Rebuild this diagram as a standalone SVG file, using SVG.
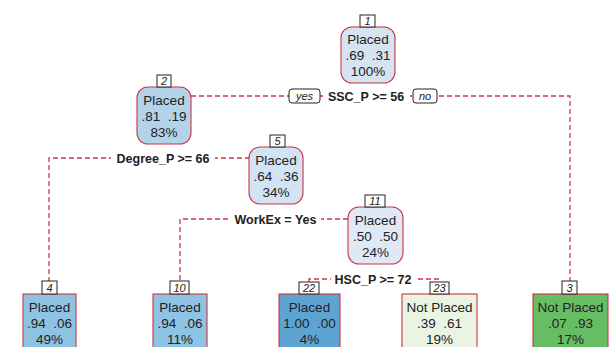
<svg xmlns="http://www.w3.org/2000/svg" width="616" height="347" viewBox="0 0 616 347">
<style>
.bg{fill:#ffffff}
.node{stroke:#cc3344;stroke-width:1.1}
.nt{font-family:"Liberation Sans",Arial,sans-serif;font-size:13.5px;fill:#222;text-anchor:middle;white-space:pre}
.lb{fill:#fff;stroke:#222;stroke-width:1}
.lt{font-family:"Liberation Sans",Arial,sans-serif;font-size:11px;font-style:italic;fill:#222;text-anchor:middle}
.edge{fill:none;stroke:#d2334a;stroke-width:1.3;stroke-dasharray:5,3}
.st{font-family:"Liberation Sans",Arial,sans-serif;font-size:12.5px;font-weight:bold;fill:#222;text-anchor:middle}
.sbg{fill:#fff}
</style>
<rect class="bg" x="0" y="0" width="616" height="347"/>
<g id="connectors">
  <polyline class="edge" points="191,96 570,96 570,281"/>
  <polyline class="edge" points="250,158 49,158 49,281"/>
  <polyline class="edge" points="348,219 180,219 180,281"/>
  <polyline class="edge" points="309,282 309,279 439,279 439,282"/>
  <rect class="sbg" x="323" y="89" width="87" height="15"/>
  <rect class="lb" x="289" y="89" width="31" height="14" rx="3"/>
  <text class="lt" x="304.5" y="100">yes</text>
  <text class="st" x="366" y="101">SSC_P &gt;= 56</text>
  <rect class="lb" x="413" y="89" width="24" height="14" rx="3"/>
  <text class="lt" x="425" y="100">no</text>
  <rect class="sbg" x="111" y="151" width="104" height="15"/>
  <text class="st" x="163" y="163">Degree_P &gt;= 66</text>
  <rect class="sbg" x="230" y="212" width="91" height="15"/>
  <text class="st" x="275.5" y="224">WorkEx = Yes</text>
  <rect class="sbg" x="331" y="272" width="84" height="15"/>
  <text class="st" x="373" y="284">HSC_P &gt;= 72</text>
</g>
<g id="node1">
  <rect class="node" x="341" y="27" width="54" height="56" rx="11" fill="#d5e3f2"/>
  <rect class="lb" x="360" y="15" width="15" height="12"/>
  <text class="lt" x="367.5" y="25">1</text>
  <text class="nt" x="368" y="44" xml:space="preserve">Placed</text>
  <text class="nt" x="368" y="60" xml:space="preserve">.69  .31</text>
  <text class="nt" x="368" y="76" xml:space="preserve">100%</text>
</g>
<g id="node2">
  <rect class="node" x="137" y="87" width="54" height="57" rx="11" fill="#b3d3eb"/>
  <rect class="lb" x="157" y="75" width="14" height="12"/>
  <text class="lt" x="164" y="85">2</text>
  <text class="nt" x="164" y="105" xml:space="preserve">Placed</text>
  <text class="nt" x="164" y="121" xml:space="preserve">.81  .19</text>
  <text class="nt" x="164" y="137" xml:space="preserve">83%</text>
</g>
<g id="node5">
  <rect class="node" x="249" y="147" width="54" height="57" rx="11" fill="#d2e3f3"/>
  <rect class="lb" x="270" y="135" width="15" height="12"/>
  <text class="lt" x="277.5" y="145">5</text>
  <text class="nt" x="276" y="165" xml:space="preserve">Placed</text>
  <text class="nt" x="276" y="181" xml:space="preserve">.64  .36</text>
  <text class="nt" x="276" y="197" xml:space="preserve">34%</text>
</g>
<g id="node11">
  <rect class="node" x="348" y="207" width="55" height="57" rx="11" fill="#dfe9f5"/>
  <rect class="lb" x="365" y="195" width="20" height="12"/>
  <text class="lt" x="375" y="205">11</text>
  <text class="nt" x="375.5" y="225" xml:space="preserve">Placed</text>
  <text class="nt" x="375.5" y="241" xml:space="preserve">.50  .50</text>
  <text class="nt" x="375.5" y="257" xml:space="preserve">24%</text>
</g>
<g id="node4">
  <rect class="node" x="23" y="294" width="53" height="60" fill="#8ec3e3"/>
  <rect class="lb" x="42" y="281" width="15" height="13"/>
  <text class="lt" x="49.5" y="291.5">4</text>
  <text class="nt" x="49.5" y="312" xml:space="preserve">Placed</text>
  <text class="nt" x="49.5" y="328" xml:space="preserve">.94  .06</text>
  <text class="nt" x="49.5" y="344" xml:space="preserve">49%</text>
</g>
<g id="node10">
  <rect class="node" x="153" y="294" width="54" height="60" fill="#8ec3e3"/>
  <rect class="lb" x="170" y="281" width="19" height="13"/>
  <text class="lt" x="179.5" y="291.5">10</text>
  <text class="nt" x="180" y="312" xml:space="preserve">Placed</text>
  <text class="nt" x="180" y="328" xml:space="preserve">.94  .06</text>
  <text class="nt" x="180" y="344" xml:space="preserve">11%</text>
</g>
<g id="node22">
  <rect class="node" x="279" y="294" width="61" height="60" fill="#5ea4d3"/>
  <rect class="lb" x="299" y="282" width="20" height="12"/>
  <text class="lt" x="309" y="292">22</text>
  <text class="nt" x="309.5" y="312" xml:space="preserve">Placed</text>
  <text class="nt" x="309.5" y="328" xml:space="preserve">1.00  .00</text>
  <text class="nt" x="309.5" y="344" xml:space="preserve">4%</text>
</g>
<g id="node23">
  <rect class="node" x="402" y="294" width="75" height="60" fill="#eaf4e3"/>
  <rect class="lb" x="430" y="282" width="19" height="12"/>
  <text class="lt" x="439.5" y="292">23</text>
  <text class="nt" x="439.5" y="312" xml:space="preserve">Not Placed</text>
  <text class="nt" x="439.5" y="328" xml:space="preserve">.39  .61</text>
  <text class="nt" x="439.5" y="344" xml:space="preserve">19%</text>
</g>
<g id="node3">
  <rect class="node" x="533" y="294" width="75" height="60" fill="#67bd64"/>
  <rect class="lb" x="562" y="281" width="15" height="13"/>
  <text class="lt" x="569.5" y="291.5">3</text>
  <text class="nt" x="570.5" y="312" xml:space="preserve">Not Placed</text>
  <text class="nt" x="570.5" y="328" xml:space="preserve">.07  .93</text>
  <text class="nt" x="570.5" y="344" xml:space="preserve">17%</text>
</g>
</svg>
